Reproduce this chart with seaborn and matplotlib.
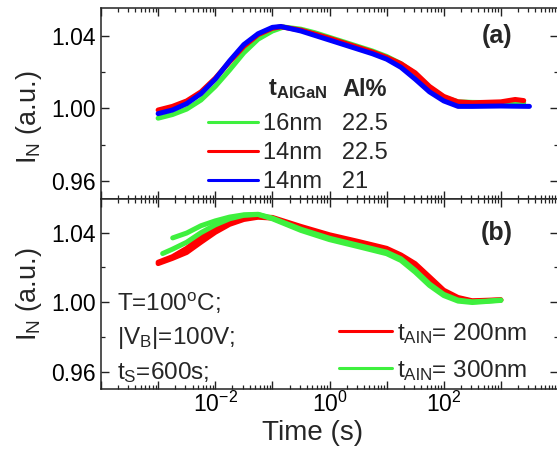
import numpy as np
import pandas as pd
import matplotlib
matplotlib.use("Agg")
import matplotlib.pyplot as plt
import seaborn as sns
from matplotlib.lines import Line2D
from matplotlib.ticker import LogLocator, MultipleLocator, FormatStrFormatter, FuncFormatter, NullFormatter

# ---------------- data ----------------
# panel (a): t_AlGaN / Al% series
time_a_blue = [1.0e-3, 1.78e-3, 3.16e-3, 5.62e-3, 1.0e-2, 1.78e-2, 3.16e-2, 5.62e-2, 0.1, 0.141,
               0.316, 0.562, 1.0, 1.78, 3.16, 5.62, 10.0, 17.8, 31.6, 56.2, 100.0, 178.0, 316.0, 1000.0, 3160.0]
in_a_blue = [0.997, 0.999, 1.0025, 1.008, 1.016, 1.026, 1.035, 1.041, 1.0445, 1.045,
             1.0425, 1.040, 1.0375, 1.035, 1.0325, 1.030, 1.027, 1.0225, 1.016, 1.009, 1.004, 1.001, 1.001, 1.0012, 1.001]

time_a_red = [1.0e-3, 1.78e-3, 3.16e-3, 5.62e-3, 1.0e-2, 1.78e-2, 3.16e-2, 5.62e-2, 0.1, 0.141,
              0.316, 0.562, 1.0, 1.78, 3.16, 5.62, 10.0, 17.8, 31.6, 56.2, 100.0, 178.0, 316.0, 1000.0, 1780.0, 2510.0]
in_a_red = [0.999, 1.001, 1.004, 1.009, 1.0165, 1.0255, 1.034, 1.0405, 1.044, 1.0448,
            1.043, 1.0408, 1.0385, 1.036, 1.0335, 1.031, 1.028, 1.0245, 1.0195, 1.012, 1.0065, 1.0035, 1.003, 1.0035, 1.0048, 1.0042]

time_a_green = [1.0e-3, 1.78e-3, 3.16e-3, 5.62e-3, 1.0e-2, 1.78e-2, 3.16e-2, 5.62e-2, 0.1, 0.158,
                0.316, 0.562, 1.0, 1.78, 3.16, 5.62, 10.0, 17.8, 31.6, 56.2, 100.0, 178.0, 316.0, 1000.0, 2510.0]
in_a_green = [0.9945, 0.9965, 0.9995, 1.0045, 1.012, 1.021, 1.0305, 1.038, 1.0425, 1.0447,
              1.0435, 1.0415, 1.039, 1.0365, 1.034, 1.0315, 1.0285, 1.0245, 1.019, 1.0115, 1.006, 1.0035, 1.0032, 1.003, 1.003]

legend_a_thickness = ["16nm", "14nm", "14nm"]
legend_a_al = ["22.5", "22.5", "21"]

# panel (b): t_AlN series (two measurements each)
time_b_red = [1.0e-3, 1.78e-3, 3.16e-3, 5.62e-3, 1.0e-2, 1.78e-2, 3.16e-2, 5.62e-2, 0.1,
              0.316, 1.0, 3.16, 10.0, 17.8, 31.6, 56.2, 100.0, 178.0, 316.0, 1000.0]
in_b_red1 = [1.0230, 1.0262, 1.0310, 1.0375, 1.0425, 1.0462, 1.0484, 1.0492, 1.0488,
             1.0436, 1.0388, 1.0350, 1.0310, 1.0272, 1.0222, 1.0146, 1.0069, 1.0027, 1.0008, 1.0014]
in_b_red2 = [1.0222, 1.0252, 1.0286, 1.0345, 1.0402, 1.0448, 1.0476, 1.0489, 1.0484,
             1.0430, 1.0380, 1.0342, 1.0303, 1.0265, 1.0214, 1.0138, 1.0062, 1.0022, 1.0005, 1.0012]

time_b_green1 = [1.2e-3, 1.78e-3, 3.16e-3, 5.62e-3, 1.0e-2, 1.78e-2, 3.16e-2, 5.62e-2, 0.1,
                 0.316, 1.0, 3.16, 10.0, 17.8, 31.6, 56.2, 100.0, 178.0, 316.0, 562.0, 1000.0]
in_b_green1 = [1.0280, 1.0305, 1.0345, 1.0400, 1.0445, 1.0480, 1.0500, 1.0505, 1.0480,
               1.0413, 1.0360, 1.0320, 1.0279, 1.0240, 1.0173, 1.0096, 1.0038, 1.0006, 0.9998, 1.0004, 1.0010]
time_b_green2 = [1.8e-3, 3.16e-3, 5.62e-3, 1.0e-2, 1.78e-2, 3.16e-2, 5.62e-2, 0.1,
                 0.316, 1.0, 3.16, 10.0, 17.8, 31.6, 56.2, 100.0, 178.0, 316.0, 562.0, 1000.0]
in_b_green2 = [1.0370, 1.0398, 1.0440, 1.0468, 1.0490, 1.0503, 1.0506, 1.0484,
               1.0420, 1.0368, 1.0328, 1.0288, 1.0250, 1.0183, 1.0105, 1.0045, 1.0012, 1.0002, 1.0006, 1.0012]

legend_b_labels = [r"t$_{\mathrm{AlN}}$= 200nm", r"t$_{\mathrm{AlN}}$= 300nm"]

RED = "#ff0000"
GREEN = "#3ef03e"
BLUE = "#0000ff"

# ---------------- style ----------------
sns.set_theme(style="ticks")
plt.rcParams["font.family"] = ["Liberation Sans", "DejaVu Sans"]
plt.rcParams["mathtext.fontset"] = "custom"
plt.rcParams["mathtext.rm"] = "Liberation Sans"
plt.rcParams["mathtext.it"] = "Liberation Sans:italic"
plt.rcParams["mathtext.bf"] = "Liberation Sans:bold"
plt.rcParams["axes.edgecolor"] = "#222222"
plt.rcParams["axes.linewidth"] = 1.1

W, H = 557, 449
fig = plt.figure(figsize=(W / 100, H / 100), dpi=100)
fig.patch.set_facecolor("white")

left = 101 / W
width = 457 / W
ax_a = fig.add_axes([left, (H - 199) / H, width, 190.7 / H])
ax_b = fig.add_axes([left, (H - 389) / H, width, 190 / H], sharex=ax_a)

LW = 3.6
def draw(ax, t, v, color):
    df = pd.DataFrame({"t": t, "v": v})
    sns.lineplot(data=df, x="t", y="v", color=color, linewidth=LW, ax=ax,
                 estimator=None, sort=False, legend=False, solid_capstyle="round")

draw(ax_a, time_a_green, in_a_green, GREEN)
draw(ax_a, time_a_red, in_a_red, RED)
draw(ax_a, time_a_blue, in_a_blue, BLUE)

draw(ax_b, time_b_red, in_b_red1, RED)
draw(ax_b, time_b_red, in_b_red2, RED)
draw(ax_b, time_b_green1, in_b_green1, GREEN)
draw(ax_b, time_b_green2, in_b_green2, GREEN)

FS = 16.5
for ax in (ax_a, ax_b):
    ax.set_xscale("log")
    ax.set_xlim(1e-4, 1e4)
    ax.xaxis.set_major_locator(LogLocator(base=10, numticks=20))
    ax.xaxis.set_minor_locator(LogLocator(base=10, subs=np.arange(2, 10), numticks=100))
    ax.xaxis.set_minor_formatter(NullFormatter())
    ax.yaxis.set_major_locator(MultipleLocator(0.04))
    ax.yaxis.set_minor_locator(MultipleLocator(0.02))
    ax.yaxis.set_major_formatter(FormatStrFormatter("%.2f"))
    ax.tick_params(which="both", direction="in", top=True, right=True, colors="#222222",
                   labelsize=FS, labelcolor="black")
    ax.tick_params(which="major", length=5.5, width=1.0)
    ax.tick_params(which="minor", length=3.0, width=0.9)
    ax.tick_params(axis="x", pad=2)
    ax.set_ylabel(r"I$_{\mathrm{N}}$ (a.u.)", fontsize=19.5)
    ax.set_xlabel("")
    ax.spines[:].set_visible(True)

def xfmt(val, pos):
    e = int(round(np.log10(val)))
    if e in (-2, 0, 2):
        return r"$\mathregular{10^{%d}}$" % e
    return ""

ax_b.xaxis.set_major_formatter(FuncFormatter(xfmt))
ax_a.tick_params(labelbottom=False)
ax_a.set_ylim(0.95, 1.055)
ax_b.set_ylim(0.95, 1.0594)
ax_b.set_xlabel("Time (s)", fontsize=20)
ax_b.xaxis.set_label_coords(0.464, -0.165)
ax_a.yaxis.set_label_coords(-0.125, 0.43)
ax_b.yaxis.set_label_coords(-0.125, 0.5)

# panel labels
ax_a.text(0.901, 0.855, "(a)", transform=ax_a.transAxes, fontsize=18, fontweight="bold",
          ha="right", va="center")
ax_b.text(0.901, 0.82, "(b)", transform=ax_b.transAxes, fontsize=18, fontweight="bold",
          ha="right", va="center")

# legend (a)
handles_a = [Line2D([], [], color=c, lw=2.2) for c in (GREEN, RED, BLUE)]
labels_a = [f"{t}   {a}" for t, a in zip(legend_a_thickness, legend_a_al)]
leg_a = ax_a.legend(handles_a, labels_a, loc="upper left", bbox_to_anchor=(0.2346, 0.45),
                    frameon=False, fontsize=17, handlelength=2.1, handletextpad=0.2,
                    labelspacing=0.3, borderpad=0, borderaxespad=0)
ax_a.text(0.366, 0.575, r"$\mathbf{t_{AlGaN}}$", transform=ax_a.transAxes, fontsize=17,
          ha="left", va="center")
ax_a.text(0.5285, 0.575, "Al%", transform=ax_a.transAxes, fontsize=17, fontweight="bold",
          ha="left", va="center")

# legend (b)
handles_b = [Line2D([], [], color=c, lw=2.2) for c in (RED, GREEN)]
ax_b.legend(handles_b, legend_b_labels, loc="upper left", bbox_to_anchor=(0.52, 0.36),
            frameon=False, fontsize=17.5, handlelength=2.2, handletextpad=0.2,
            labelspacing=0.5, borderpad=0, borderaxespad=0)

# conditions text (b)
ax_b.text(0.035, 0.453, r"T=100$^{\mathrm{o}}$C;", transform=ax_b.transAxes, fontsize=17.5,
          ha="left", va="center")
ax_b.text(0.035, 0.268, r"|V$_{\mathrm{B}}$|=100V;", transform=ax_b.transAxes, fontsize=17.5,
          ha="left", va="center")
ax_b.text(0.035, 0.084, r"t$_{\mathrm{S}}$=600s;", transform=ax_b.transAxes, fontsize=17.5,
          ha="left", va="center")

fig.savefig("out.png", dpi=100, facecolor="white")
